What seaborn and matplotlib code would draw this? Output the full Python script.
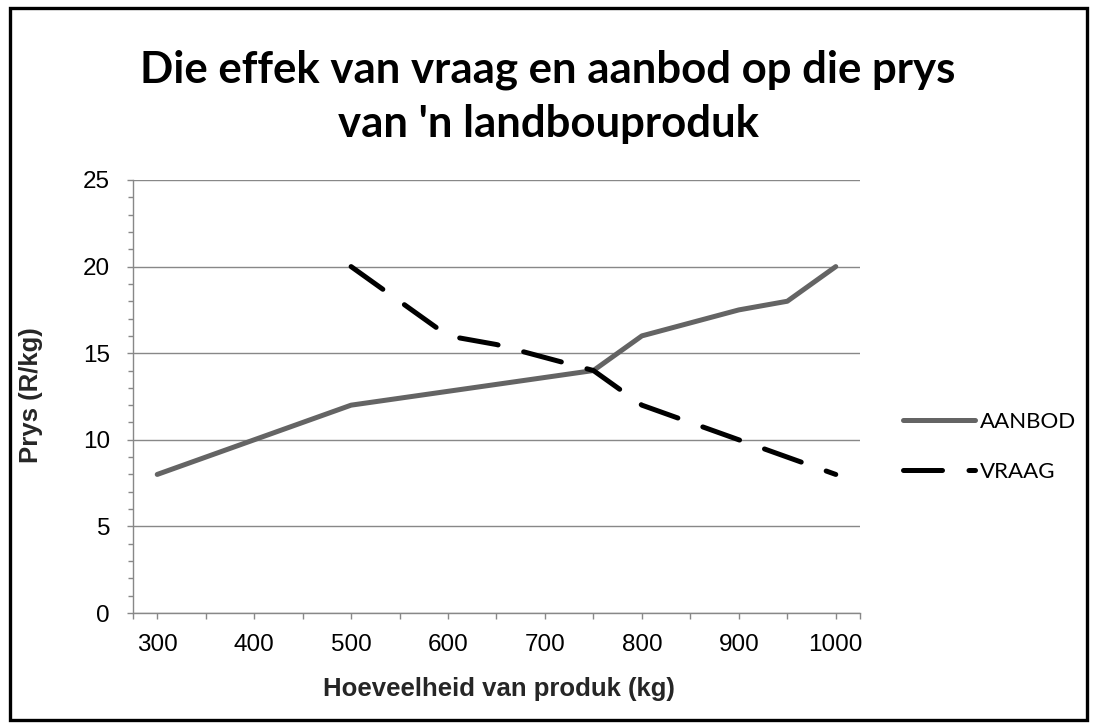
import numpy as np
import pandas as pd
import seaborn as sns
import matplotlib
matplotlib.use("Agg")
import matplotlib.pyplot as plt
from matplotlib.patches import Rectangle

# ---- data ----
supply_qty = [300, 500, 750, 800, 900, 950, 1000]
supply_price = [8, 12, 14, 16, 17.5, 18, 20]
demand_qty = [500, 600, 650, 700, 750, 800, 900, 950, 1000]
demand_price = [20, 16, 15.5, 14.75, 14, 12, 10, 9, 8]
x_ticks = [300, 350, 400, 450, 500, 550, 600, 650, 700, 750, 800, 850, 900, 950, 1000]
x_tick_labels = ["300", "", "400", "", "500", "", "600", "", "700", "", "800", "", "900", "", "1000"]
y_ticks = [0, 5, 10, 15, 20, 25]
title_lines = ["Die effek van vraag en aanbod op die prys", "van 'n landbouproduk"]
series_names = ["AANBOD", "VRAAG"]

sns.set_theme(style="white")
plt.rcParams['font.family'] = ['Liberation Sans', 'DejaVu Sans']

W, H = 1094, 727
fig = plt.figure(figsize=(W / 100, H / 100), dpi=100)
fig.patch.set_facecolor("white")

L, R, T, B = 133, 860, 180, 613
ax = fig.add_axes([L / W, 1 - B / H, (R - L) / W, (B - T) / H])

supply_df = pd.DataFrame({"q": supply_qty, "p": supply_price})
demand_df = pd.DataFrame({"q": demand_qty, "p": demand_price})

sns.lineplot(data=supply_df, x="q", y="p", ax=ax, color="#646464", lw=3.6,
             label=series_names[0], solid_capstyle="round", solid_joinstyle="round", zorder=3)
sns.lineplot(data=demand_df, x="q", y="p", ax=ax, color="black", lw=3.6,
             label=series_names[1], zorder=4)
dl = ax.lines[1]
dl.set_linestyle((0, (7.8, 5.3)))
dl.set_dash_capstyle("round")
dl.set_dash_joinstyle("round")

ax.set_xlim(275, 1025)
ax.set_ylim(0, 25)
ax.set_xticks(x_ticks)
ax.set_xticklabels(x_tick_labels)
ax.set_xticks([275, 1025], minor=True)
ax.set_yticks(y_ticks)
ax.set_yticks(np.arange(0, 26, 1), minor=True)

gray = "#888888"
ax.yaxis.grid(True, color=gray, lw=1.0)
ax.xaxis.grid(False)
ax.set_axisbelow(True)
for s in ["top", "right"]:
    ax.spines[s].set_visible(False)
for s in ["left", "bottom"]:
    ax.spines[s].set_color(gray)
    ax.spines[s].set_linewidth(1.0)

ax.tick_params(axis="x", which="both", direction="out", length=4, width=1, color=gray,
               labelsize=17.5, labelcolor="black", pad=11, bottom=True)
ax.tick_params(axis="y", which="major", direction="out", length=4.5, width=1, color=gray,
               labelsize=17.5, labelcolor="black", pad=12, left=True)
ax.tick_params(axis="y", which="minor", direction="out", length=3.5, width=1, color=gray, left=True)
ax.tick_params(axis="x", which="minor", labelbottom=False)

ax.set_xlabel("Hoeveelheid van produk (kg)", fontsize=18.5, fontweight="bold")
ax.set_ylabel("Prys (R/kg)", fontsize=18.5, fontweight="bold")
ax.xaxis.set_label_coords((499 - L) / (R - L), -(677 - B) / (B - T))
ax.yaxis.set_label_coords(-(L - 43) / (R - L), (B - 395) / (B - T))

handles, labels = ax.get_legend_handles_labels()
leg = ax.legend(handles, labels, loc="center left",
                bbox_to_anchor=(903 / W, 1 - 447 / H), bbox_transform=fig.transFigure,
                frameon=False, handlelength=3.25, handletextpad=0.22, labelspacing=1.35,
                borderpad=0, borderaxespad=0,
                prop={"family": ["Lato", "DejaVu Sans"], "size": 16})
for t in leg.get_texts():
    t.set_color("black")

fig.text(548 / W, 1 - 70 / H, title_lines[0], ha="center", va="center",
         fontsize=31.5, fontweight="bold", family=["Lato", "DejaVu Sans"], color="black")
fig.text(548 / W, 1 - 124 / H, title_lines[1], ha="center", va="center",
         fontsize=31.5, fontweight="bold", family=["Lato", "DejaVu Sans"], color="black")

fig.patches.append(Rectangle((9.5 / W, 7 / H), (1087 - 9.5) / W, (719 - 7) / H,
                             transform=fig.transFigure, fill=False, edgecolor="black",
                             lw=2.4, zorder=10))

fig.savefig("out.png", dpi=100, facecolor="white")
